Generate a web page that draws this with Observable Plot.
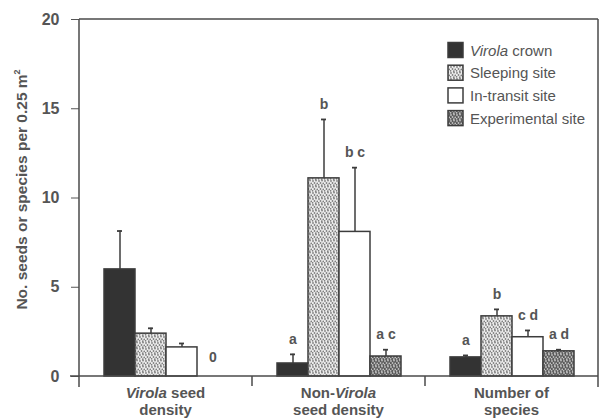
<!DOCTYPE html>
<html>
<head>
<meta charset="utf-8">
<script src="https://cdn.jsdelivr.net/npm/d3@7"></script>
<script src="https://cdn.jsdelivr.net/npm/@observablehq/plot@0.6"></script>
<style>
  html, body { margin: 0; padding: 0; background: #fff; }
  #chart svg { display: block; }
</style>
</head>
<body>
<div id="chart"></div>
<script>
// ---- data ----
const categories = ["Virola seed density", "Non-Virola seed density", "Number of species"];
const series = ["Virola crown", "Sleeping site", "In-transit site", "Experimental site"];

const virolaSeedMean = [6.0, 2.4, 1.63, 0];
const virolaSeedSE   = [2.15, 0.3, 0.22, 0];
const nonVirolaMean  = [0.73, 11.1, 8.1, 1.12];
const nonVirolaSE    = [0.51, 3.3, 3.6, 0.38];
const speciesMean    = [1.07, 3.37, 2.2, 1.41];
const speciesSE      = [0.11, 0.39, 0.38, 0.09];

const virolaSeedLetters = ["", "", "", ""];
const nonVirolaLetters  = ["a", "b", "b c", "a c"];
const speciesLetters    = ["a", "b", "c d", "a d"];
const zeroLabels = [{category: categories[0], series: series[3], text: "0", value: 0}];

const yTicks = [0, 5, 10, 15, 20];
const yTitle = "No. seeds or species per 0.25 m";

// category label lines (segments; italic flagged)
const categoryLabels = [
  [[["Virola", true], [" seed", false]], [["density", false]]],
  [[["Non-", false], ["Virola", true]], [["seed density", false]]],
  [[["Number of", false]], [["species", false]]]
];

// ---- build table ----
const means = [virolaSeedMean, nonVirolaMean, speciesMean];
const ses = [virolaSeedSE, nonVirolaSE, speciesSE];
const letters = [virolaSeedLetters, nonVirolaLetters, speciesLetters];
const rows = [];
categories.forEach((c, ci) => series.forEach((s, si) => rows.push({
  category: c, series: s, mean: means[ci][si], se: ses[ci][si],
  top: means[ci][si] + ses[ci][si], label: letters[ci][si]
})));

const ink = "#3c3c3c";
const textColor = "#555";
const font = "'Liberation Sans', Arial, Helvetica, sans-serif";

const plot = Plot.plot({
  width: 600,
  height: 418,
  marginLeft: 78,
  marginRight: 1,
  marginTop: 19,
  marginBottom: 42,
  style: {fontFamily: font, fontSize: "16px", fontWeight: "bold", color: textColor, background: "#fff"},
  fx: {domain: categories, padding: 0, axis: null},
  x: {domain: series, paddingInner: 0, paddingOuter: 0.714, axis: null},
  y: {domain: [0, 20], ticks: yTicks, tickSize: 8, tickPadding: 12, label: null},
  color: {domain: series, range: ["#333333", "url(#pSleep)", "#ffffff", "url(#pExp)"], legend: false},
  marks: [
    Plot.barY(rows.filter(d => d.mean > 0), {
      fx: "category", x: "series", y: "mean", fill: "series",
      stroke: ink, strokeWidth: 1.5
    }),
    Plot.ruleX(rows.filter(d => d.se > 0), {
      fx: "category", x: "series", y1: "mean", y2: "top",
      stroke: ink, strokeWidth: 1.5
    }),
    Plot.tickY(rows.filter(d => d.se > 0), {
      fx: "category", x: "series", y: "top",
      insetLeft: 13, insetRight: 13, stroke: ink, strokeWidth: 1.8
    }),
    Plot.text(rows.filter(d => d.label), {
      fx: "category", x: "series", y: "top", text: "label",
      dy: -15, fontSize: 14, fontWeight: "bold", fill: textColor
    }),
    Plot.text(zeroLabels, {
      fx: "category", x: "series", y: "value", text: "text",
      dy: -19, fontSize: 14, fontWeight: "bold", fill: textColor
    })
  ]
});

document.getElementById("chart").appendChild(plot);

// ---- patterns, frame, labels, legend (positions from Plot's scales) ----
const svg = d3.select(plot);
const defs = svg.insert("defs", ":first-child");

function stipple(id, bg, dot, pts) {
  const p = defs.append("pattern").attr("id", id)
    .attr("patternUnits", "userSpaceOnUse").attr("width", 6).attr("height", 6);
  p.append("rect").attr("width", 6).attr("height", 6).attr("fill", bg);
  pts.forEach(([cx, cy]) => p.append("circle").attr("cx", cx).attr("cy", cy).attr("r", 0.9).attr("fill", dot));
}
const pts = [[1, 1], [4, 0.5], [2.5, 3], [5.3, 3.4], [0.6, 4.8], [3.8, 5.2]];
stipple("pSleep", "#ededed", "#808080", pts);
stipple("pExp", "#5a5a5a", "#c0c0c0", pts);

// y tick labels: size
svg.selectAll('g[aria-label="y-axis tick label"]').attr("font-size", 16).attr("font-weight", "bold");
svg.selectAll('g[aria-label="y-axis tick label"] text').attr("font-size", 16).attr("font-weight", "bold");

const y = plot.scale("y");
const fx = plot.scale("fx");
const y0 = y.apply(0), y20 = y.apply(20);
const xL = fx.apply(categories[0]);
const bw = fx.bandwidth;
const xR = fx.apply(categories[2]) + bw;

const g = svg.append("g").attr("stroke", "#4a4a4a").attr("stroke-width", 1.5).attr("fill", "none");
g.append("line").attr("x1", xL).attr("x2", xR).attr("y1", y20).attr("y2", y20);
g.append("line").attr("x1", xL - 9).attr("x2", xR).attr("y1", y0).attr("y2", y0);
g.append("line").attr("x1", xL).attr("x2", xL).attr("y1", y20).attr("y2", y0 + 11);
g.append("line").attr("x1", xR).attr("x2", xR).attr("y1", y20).attr("y2", y0 + 11);
categories.slice(1).forEach(c => {
  const x = fx.apply(c);
  g.append("line").attr("x1", x).attr("x2", x).attr("y1", y0).attr("y2", y0 + 10);
});

// category labels
categories.forEach((c, ci) => {
  const cx = fx.apply(c) + bw / 2;
  categoryLabels[ci].forEach((line, li) => {
    const t = svg.append("text").attr("x", cx).attr("y", y0 + 22 + li * 17)
      .attr("text-anchor", "middle").attr("font-family", font)
      .attr("font-size", 15).attr("font-weight", "bold").attr("fill", textColor);
    line.forEach(([s, it]) => t.append("tspan").attr("font-style", it ? "italic" : "normal").text(s));
  });
});

// y axis title
const yt = svg.append("text")
  .attr("transform", `translate(27,${(y0 + y20) / 2 - 8}) rotate(-90)`)
  .attr("text-anchor", "middle").attr("font-family", font)
  .attr("font-size", 15.5).attr("font-weight", "bold").attr("fill", textColor);
yt.append("tspan").text(yTitle);
yt.append("tspan").attr("font-size", 9).attr("dy", -7).text("2");

// legend
const lg = svg.append("g").attr("font-family", font).attr("font-size", 15)
  .attr("font-weight", "normal").attr("text-anchor", "start").attr("fill", textColor);
const legendFills = ["#333333", "url(#pSleep)", "#ffffff", "url(#pExp)"];
series.forEach((s, i) => {
  const cy = 50 + i * 22.7;
  lg.append("rect").attr("x", 448).attr("y", cy - 7.5).attr("width", 15).attr("height", 15)
    .attr("fill", legendFills[i]).attr("stroke", ink).attr("stroke-width", 1.5);
  const t = lg.append("text").attr("x", 470).attr("y", cy + 5.5)
    .attr("text-anchor", "start").attr("font-weight", "normal");
  if (s.startsWith("Virola")) {
    t.append("tspan").attr("font-style", "italic").text("Virola");
    t.append("tspan").text(s.slice(6));
  } else {
    t.text(s);
  }
});
</script>
</body>
</html>
